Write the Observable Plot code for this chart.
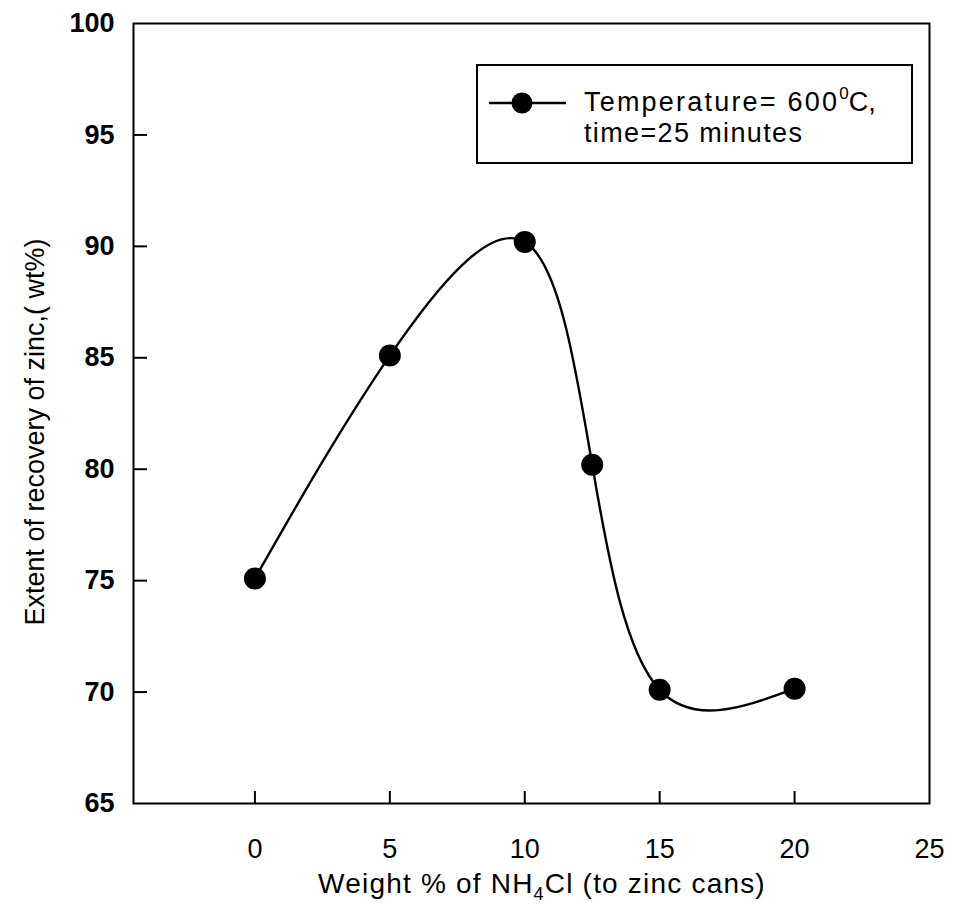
<!DOCTYPE html>
<html>
<head>
<meta charset="utf-8">
<script src="https://cdn.jsdelivr.net/npm/d3@7"></script>
<script src="https://cdn.jsdelivr.net/npm/@observablehq/plot@0.6"></script>
<style>
  html, body { margin: 0; padding: 0; background: #fff; }
  #chart { position: relative; width: 967px; height: 918px; }
</style>
</head>
<body>
<div id="chart"></div>
<script>
// Data
const nh4clWeight = [0, 5, 10, 12.5, 15, 20];
const zincRecovery = [75.1, 85.1, 90.2, 80.2, 70.1, 70.15];
const xTickValues = [0, 5, 10, 15, 20, 25];
const xInnerTicks = [0, 5, 10, 15, 20];
const yTickValues = [65, 70, 75, 80, 85, 90, 95, 100];
const yInnerTicks = [70, 75, 80, 85, 90, 95];
const xTitle = ["Weight % of NH", "4", "Cl (to zinc cans)"];
const yTitle = "Extent of recovery of zinc,( wt%)";
const legendText = ["Temperature= 600", "0", "C,", "time=25 minutes"];

const data = nh4clWeight.map((x, i) => ({x, y: zincRecovery[i]}));

const font = "Liberation Sans, Arial, sans-serif";

const chart = Plot.plot({
  width: 967,
  height: 918,
  marginLeft: 133,
  marginRight: 38,
  marginTop: 23,
  marginBottom: 115,
  style: {fontFamily: font, background: "white", color: "black"},
  x: {domain: [-4.5, 25]},
  y: {domain: [65, 100]},
  marks: [
    Plot.frame({stroke: "black", strokeWidth: 2}),
    Plot.axisX({ticks: xInnerTicks, tickSize: -12, strokeWidth: 2, text: null, label: null}),
    Plot.axisX({ticks: xTickValues, tickSize: 0, tickPadding: 35, fontSize: 27, label: null}),
    Plot.axisY({ticks: yInnerTicks, tickSize: -14, strokeWidth: 2, text: null, label: null}),
    Plot.axisY({ticks: yTickValues, tickSize: 0, tickPadding: 19, fontSize: 27, fontWeight: "bold", label: null}),
    Plot.line(data, {x: "x", y: "y", curve: "natural", stroke: "black", strokeWidth: 2.4}),
    Plot.dot(data, {x: "x", y: "y", r: 11, fill: "black", stroke: "none"})
  ]
});

document.getElementById("chart").appendChild(chart);

const svg = d3.select(chart);

// X axis title with subscript
const xt = svg.append("text")
  .attr("x", 542).attr("y", 893)
  .attr("text-anchor", "middle")
  .attr("font-family", font)
  .attr("font-size", 28)
  .attr("letter-spacing", 1.2)
  .attr("fill", "black");
xt.append("tspan").text(xTitle[0]);
xt.append("tspan").attr("font-size", 18).attr("dy", 7).text(xTitle[1]);
xt.append("tspan").attr("dy", -7).text(xTitle[2]);

// Y axis title
svg.append("text")
  .attr("transform", "translate(44,432) rotate(-90)")
  .attr("text-anchor", "middle")
  .attr("font-family", font)
  .attr("font-size", 27)
  .attr("fill", "black")
  .text(yTitle);

// Legend box
const lg = svg.append("g").attr("text-anchor", "start");
lg.append("rect")
  .attr("x", 477).attr("y", 65).attr("width", 435).attr("height", 98)
  .attr("fill", "white").attr("stroke", "black").attr("stroke-width", 2);
lg.append("line")
  .attr("x1", 489).attr("x2", 566).attr("y1", 103).attr("y2", 103)
  .attr("stroke", "black").attr("stroke-width", 2.4);
lg.append("circle")
  .attr("cx", 522).attr("cy", 103).attr("r", 10.5).attr("fill", "black");
const t1 = lg.append("text")
  .attr("x", 584).attr("y", 111)
  .attr("text-anchor", "start")
  .attr("font-family", font).attr("font-size", 27).attr("fill", "black");
t1.append("tspan").attr("textLength", 253).attr("lengthAdjust", "spacing").text(legendText[0]);
t1.append("tspan").attr("font-size", 17).attr("dy", -12).text(legendText[1]);
t1.append("tspan").attr("dy", 12).text(legendText[2]);
lg.append("text")
  .attr("x", 584).attr("y", 142)
  .attr("text-anchor", "start")
  .attr("textLength", 218).attr("lengthAdjust", "spacing")
  .attr("font-family", font).attr("font-size", 27).attr("fill", "black")
  .text(legendText[3]);
</script>
</body>
</html>
